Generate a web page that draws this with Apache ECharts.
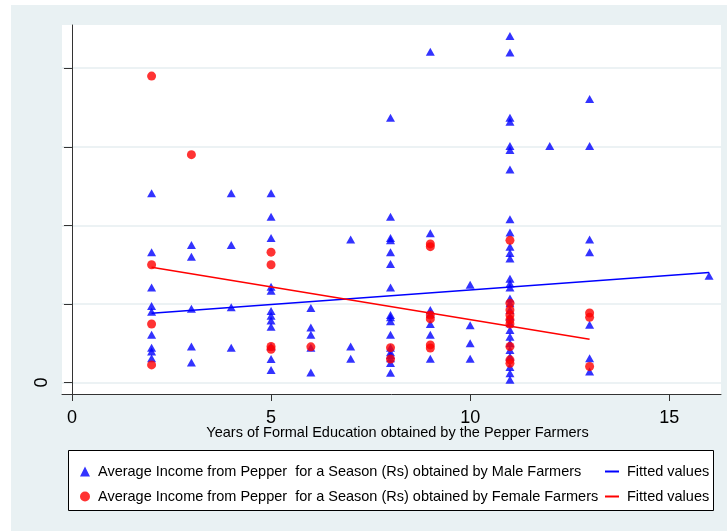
<!DOCTYPE html>
<html>
<head>
<meta charset="utf-8">
<script src="https://cdn.jsdelivr.net/npm/echarts@6/dist/echarts.min.js"></script>
<style>
  html, body { margin: 0; padding: 0; background: #fff; }
  #main { width: 727px; height: 531px; }
</style>
</head>
<body>
<div id="main"></div>
<script>
// years of education, one column of points per year
const maleYears = [2, 3, 4, 5, 6, 7, 8, 9, 10, 11, 12, 13, 16];
const maleIncome = [
  [48200, 33200, 24200, 19500, 18000, 12200, 8900, 7900, 6200],
  [35000, 32000, 18800, 9200, 5100],
  [48200, 35000, 19200, 8900],
  [48200, 42200, 36800, 24400, 23400, 18200, 17000, 15800, 14200, 9200, 6000, 3200],
  [19000, 14000, 12200, 8900, 2600],
  [36400, 9200, 6100],
  [67400, 42200, 36800, 36200, 33200, 30200, 24200, 17200, 16600, 15600, 12200, 8900, 7700, 7000, 6200, 5000, 2500],
  [84200, 38000, 18500, 17500, 14900, 12200, 6100],
  [24900, 14600, 10000, 6100],
  [88200, 84000, 67400, 66400, 60200, 59200, 54200, 41600, 38200, 34600, 33000, 31600, 26400, 25200,
   24200, 21400, 20200, 18500, 16800, 15100, 13400, 11700, 10000, 8300, 6600, 4000, 2400, 700],
  [60200],
  [72200, 60200, 36400, 33200, 14700, 6200, 2800],
  [27200]
];
const femaleYears = [2, 3, 5, 6, 8, 9, 11, 13];
const femaleIncome = [
  [78000, 30000, 14900, 4500],
  [58000],
  [33200, 30000, 9200, 8500],
  [9100],
  [8900, 6000],
  [35300, 34600, 17200, 16200, 9600, 8800],
  [36200, 20200, 18500, 17200, 16000, 14900, 9200, 5800, 4900],
  [17700, 16600, 4100]
];
// fitted lines (end points)
const maleFitX = [2, 16];
const maleFitY = [17660, 27990];
const femaleFitX = [2, 13];
const femaleFitY = [29360, 11040];

const xTicks = [0, 5, 10, 15];
const yTicks = [0, 20000, 40000, 60000, 80000];

function toPoints(years, incomes) {
  const pts = [];
  years.forEach((yr, i) => incomes[i].forEach(v => pts.push([yr, v])));
  return pts;
}
function zip(xs, ys) {
  return xs.map((x, i) => [x, ys[i]]);
}

const maleName = "Average Income from Pepper  for a Season (Rs) obtained by Male Farmers";
const femaleName = "Average Income from Pepper  for a Season (Rs) obtained by Female Farmers";
const font = "'Liberation Sans', Arial, sans-serif";

const chart = echarts.init(document.getElementById("main"));
chart.setOption({
  animation: false,
  textStyle: { fontFamily: font },
  graphic: [
    { type: "rect", z: -10, shape: { x: 11, y: 5, width: 716, height: 526 }, style: { fill: "#e9f1f3" } },
    { type: "rect", z: -5, shape: { x: 68.5, y: 450.5, width: 645, height: 60 }, style: { fill: "#fff", stroke: "#000", lineWidth: 1 } }
  ],
  grid: {
    left: 62, top: 25, right: 6, bottom: 137,
    show: true, backgroundColor: "#fff", borderWidth: 0
  },
  legend: [
    {
      orient: "vertical",
      left: 75, top: 459,
      itemWidth: 10, itemHeight: 10, itemGap: 10,
      textStyle: { fontSize: 14.5, color: "#000", fontFamily: font, padding: [0, 0, 0, 3] },
      data: [maleName, femaleName]
    },
    {
      orient: "vertical",
      left: 600, top: 459,
      itemWidth: 14, itemHeight: 2, itemGap: 10,
      icon: "rect",
      textStyle: { fontSize: 14.5, color: "#000", fontFamily: font, padding: [0, 0, 0, 3] },
      formatter: () => "Fitted values",
      data: ["Fitted values (male)", "Fitted values (female)"]
    }
  ],
  xAxis: {
    type: "value",
    min: -0.25, max: 16.3,
    name: "Years of Formal Education obtained by the Pepper Farmers",
    nameLocation: "middle",
    nameGap: 31,
    nameMoveOverlap: false,
    nameTextStyle: { fontSize: 14.5, color: "#000", fontFamily: font, padding: [0, 0, 0, 12] },
    axisLine: { show: true, onZero: false, lineStyle: { color: "#333", width: 1 } },
    axisTick: { show: true, length: 7, customValues: xTicks, lineStyle: { color: "#333" } },
    axisLabel: { customValues: xTicks, fontSize: 18, color: "#000", margin: 15 },
    splitLine: { show: false }
  },
  yAxis: {
    type: "value",
    min: -2900, max: 91000,
    axisLine: { show: true, lineStyle: { color: "#333", width: 1 } },
    axisTick: { show: true, length: 8, customValues: yTicks, lineStyle: { color: "#333" } },
    axisLabel: { customValues: [0], rotate: 90, fontSize: 18, color: "#000", margin: 11 },
    splitLine: { show: true, lineStyle: { color: "#e6eef1", width: 1.5 } }
  },
  series: [
    {
      name: maleName,
      type: "scatter",
      symbol: "triangle",
      symbolSize: [9, 8],
      itemStyle: { color: "#0000ff" },
      data: toPoints(maleYears, maleIncome)
    },
    {
      name: "Fitted values (male)",
      type: "line",
      symbol: "none",
      lineStyle: { color: "#0000ff", width: 1.5 },
      itemStyle: { color: "#0000ff" },
      data: zip(maleFitX, maleFitY)
    },
    {
      name: femaleName,
      type: "scatter",
      symbol: "circle",
      symbolSize: 9,
      itemStyle: { color: "#ff0000" },
      data: toPoints(femaleYears, femaleIncome)
    },
    {
      name: "Fitted values (female)",
      type: "line",
      symbol: "none",
      lineStyle: { color: "#ff0000", width: 1.5 },
      itemStyle: { color: "#ff0000" },
      data: zip(femaleFitX, femaleFitY)
    }
  ]
});
</script>
</body>
</html>
